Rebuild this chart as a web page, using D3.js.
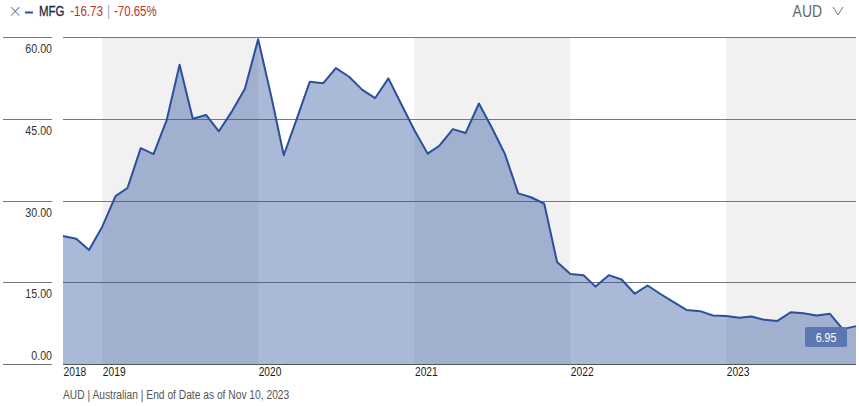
<!DOCTYPE html>
<html>
<head>
<meta charset="utf-8">
<script src="https://cdn.jsdelivr.net/npm/d3@7"></script>
<style>
  html, body { margin: 0; padding: 0; background: #fff; }
  svg { display: block; font-family: "Liberation Sans", Arial, sans-serif; }
</style>
</head>
<body>
<svg id="chart" width="859" height="406"></svg>
<script>
// ---- data ----
const months = [
  "2018-10","2018-11","2018-12",
  "2019-01","2019-02","2019-03","2019-04","2019-05","2019-06","2019-07","2019-08","2019-09","2019-10","2019-11","2019-12",
  "2020-01","2020-02","2020-03","2020-04","2020-05","2020-06","2020-07","2020-08","2020-09","2020-10","2020-11","2020-12",
  "2021-01","2021-02","2021-03","2021-04","2021-05","2021-06","2021-07","2021-08","2021-09","2021-10","2021-11","2021-12",
  "2022-01","2022-02","2022-03","2022-04","2022-05","2022-06","2022-07","2022-08","2022-09","2022-10","2022-11","2022-12",
  "2023-01","2023-02","2023-03","2023-04","2023-05","2023-06","2023-07","2023-08","2023-09","2023-10","2023-11"
];
const prices = [
  23.5, 23.0, 20.9,
  25.2, 30.8, 32.3, 39.6, 38.5, 44.8, 54.9, 45.0, 45.7, 42.7, 46.4, 50.5,
  59.6, 49.0, 38.3, 45.1, 51.8, 51.5, 54.3, 52.7, 50.3, 48.8, 52.4, 47.7,
  42.9, 38.6, 40.1, 43.1, 42.4, 47.8, 43.4, 38.5, 31.3, 30.6, 29.4, 18.7,
  16.5, 16.3, 14.2, 16.3, 15.5, 12.9, 14.4, 12.8, 11.3, 9.9, 9.7, 8.9,
  8.8, 8.5, 8.7, 8.1, 7.9, 9.5, 9.3, 8.9, 9.2, 6.4, 6.95
];
const yTicks = [0, 15, 30, 45, 60];
const xTickLabels = ["2018", "2019", "2020", "2021", "2022", "2023"];
const shadedYears = ["2019", "2021", "2023"];
const lastValueLabel = "6.95";
const header = { ticker: "MFG", change: "-16.73", pct: "-70.65%", currency: "AUD" };
const footerText = "AUD | Australian | End of Date as of Nov 10, 2023";

// ---- setup ----
const NARROW = 0.82; // horizontal condensing to mimic a narrow sans face
const parse = d3.timeParse("%Y-%m");
const data = months.map((m, i) => ({ date: parse(m), value: prices[i] }));

const svg = d3.select("#chart");
const x0 = 63, x1 = 856, yTop = 37, yBottom = 364;

const x = d3.scaleTime()
  .domain(d3.extent(data, d => d.date))
  .range([x0, x1]);
const y = d3.scaleLinear().domain([0, 60]).range([yBottom, yTop]);

function ntext(px, py, size, fill, anchor) {
  return svg.append("text")
    .attr("transform", `translate(${px},${py}) scale(${NARROW},1)`)
    .attr("text-anchor", anchor || "start")
    .attr("font-size", size)
    .attr("fill", fill);
}

// shaded alternating year bands
shadedYears.forEach(yr => {
  const s = new Date(+yr, 0, 1);
  const e = new Date(+yr + 1, 0, 1);
  const xs = Math.max(x0, x(s)), xe = Math.min(x1, x(e));
  svg.append("rect")
    .attr("x", xs).attr("y", yTop)
    .attr("width", xe - xs).attr("height", yBottom - yTop)
    .attr("fill", "#f1f1f1");
});

// gridlines (plot area and label column)
const grid = svg.append("g");
yTicks.forEach(t => {
  if (t === 0) return;
  grid.append("line")
    .attr("x1", x0).attr("x2", x1)
    .attr("y1", Math.round(y(t)) + 0.5).attr("y2", Math.round(y(t)) + 0.5)
    .attr("stroke", "#777").attr("stroke-width", 1);
});
yTicks.forEach(t => {
  grid.append("line")
    .attr("x1", 3).attr("x2", 52)
    .attr("y1", Math.round(y(t)) + 0.5).attr("y2", Math.round(y(t)) + 0.5)
    .attr("stroke", "#777").attr("stroke-width", 1);
});

// area + line
const area = d3.area()
  .x(d => x(d.date)).y0(yBottom).y1(d => y(d.value));
const line = d3.line()
  .x(d => x(d.date)).y(d => y(d.value));

svg.append("path").datum(data)
  .attr("d", area)
  .attr("fill", "rgba(43,79,158,0.4)");

svg.append("path").datum(data)
  .attr("d", line)
  .attr("fill", "none")
  .attr("stroke", "#2c4f9c")
  .attr("stroke-width", 2)
  .attr("stroke-linejoin", "round");

// bottom axis line
svg.append("line")
  .attr("x1", x0).attr("x2", x1)
  .attr("y1", yBottom + 0.5).attr("y2", yBottom + 0.5)
  .attr("stroke", "#555").attr("stroke-width", 1.2);

// y labels
yTicks.forEach(t => {
  const yy = t === 0 ? yBottom - 4 : y(t) + 16;
  ntext(52, yy, 13, "#333", "end").text(d3.format(".2f")(t));
});

// x axis labels
const xTickDates = xTickLabels.map((l, i) => i === 0 ? data[0].date : new Date(+l, 0, 1));
const xAxis = d3.axisBottom(x)
  .tickValues(xTickDates)
  .tickSize(0)
  .tickFormat((d, i) => xTickLabels[i]);
const gx = svg.append("g")
  .attr("transform", `translate(0, ${yBottom})`)
  .attr("font-family", "'Liberation Sans', Arial, sans-serif")
  .call(xAxis);
gx.select(".domain").remove();
gx.selectAll("text")
  .attr("text-anchor", "start")
  .attr("x", 0).attr("y", 0).attr("dy", 0)
  .attr("transform", `translate(0,12) scale(${NARROW},1)`)
  .attr("font-size", 12.5)
  .attr("fill", "#1a1a1a");

// last value label
const bw = 42, bh = 20;
svg.append("rect")
  .attr("x", 805).attr("y", 327)
  .attr("width", bw).attr("height", bh)
  .attr("rx", 2)
  .attr("fill", "#5b77b1");
ntext(805 + bw / 2, 327 + 14.5, 13, "#fff", "middle").text(lastValueLabel);

// header
svg.append("text").attr("x", 8).attr("y", 17)
  .attr("fill", "#777").attr("font-size", 17)
  .attr("font-family", "'DejaVu Sans', sans-serif").attr("font-weight", 200)
  .text("×");
svg.append("line").attr("x1", 25).attr("x2", 33).attr("y1", 12.5).attr("y2", 12.5)
  .attr("stroke", "#2c4f9c").attr("stroke-width", 2);
const hdr = ntext(39, 16, 14, "#1e2a3c", "start");
hdr.append("tspan").attr("fill", "#1e2a3c").attr("stroke", "#1e2a3c").attr("stroke-width", 0.3).text(header.ticker);
hdr.append("tspan").attr("dx", 7).attr("fill", "#bf2f32").text(header.change);
hdr.append("tspan").attr("dx", 5).attr("fill", "#9aa7bd").text("|");
hdr.append("tspan").attr("dx", 5).attr("fill", "#bf2f32").text(header.pct);

ntext(822, 17, 17, "#666", "end").text(header.currency);
svg.append("path")
  .attr("d", "M833,7 L838,15 L843,7")
  .attr("fill", "none").attr("stroke", "#777").attr("stroke-width", 1);

// footer
ntext(63, 399, 12.5, "#555", "start").text(footerText);
</script>
</body>
</html>
